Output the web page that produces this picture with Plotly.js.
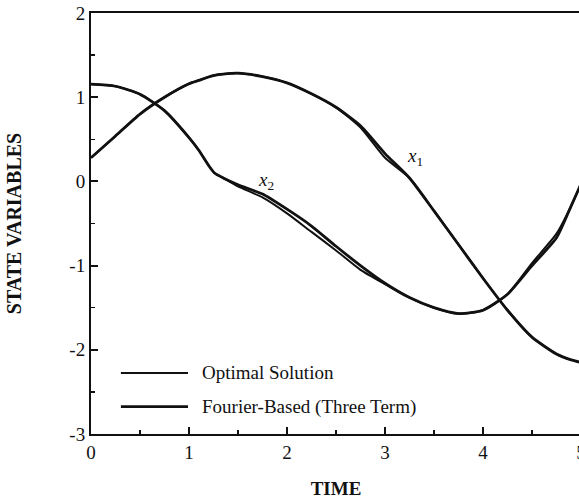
<!DOCTYPE html>
<html>
<head>
<meta charset="utf-8">
<script src="https://cdn.plot.ly/plotly-3.0.1.min.js"></script>
<style>
html, body { margin: 0; padding: 0; overflow: hidden; background: #fff; }
#chart { width: 584px; height: 499px; }
</style>
</head>
<body>
<div id="chart"></div>
<script>
// Time grid
const time = [0, 0.25, 0.5, 0.75, 1.0, 1.1, 1.2, 1.26, 1.35, 1.5, 1.75, 2.0, 2.25, 2.5, 2.75, 3.0, 3.25, 3.5, 3.75, 4.0, 4.25, 4.5, 4.75, 4.9, 5.0];

// Fourier-based (three term) solution
const x1Fourier = [0.28, 0.54, 0.80, 1.00, 1.16, 1.20, 1.24, 1.26, 1.275, 1.285, 1.245, 1.17, 1.04, 0.88, 0.66, 0.33, 0.04, -0.35, -0.75, -1.15, -1.53, -1.85, -2.05, -2.12, -2.15];
const x2Fourier = [1.155, 1.13, 1.035, 0.84, 0.52, 0.37, 0.19, 0.10, 0.04, -0.04, -0.15, -0.33, -0.53, -0.77, -1.00, -1.21, -1.38, -1.50, -1.57, -1.53, -1.34, -1.00, -0.67, -0.29, -0.03];

// Optimal solution
const x1Optimal = [0.28, 0.54, 0.80, 1.00, 1.16, 1.20, 1.24, 1.26, 1.275, 1.285, 1.245, 1.17, 1.04, 0.88, 0.64, 0.28, 0.04, -0.35, -0.75, -1.15, -1.53, -1.85, -2.05, -2.12, -2.15];
const x2Optimal = [1.155, 1.13, 1.035, 0.84, 0.52, 0.37, 0.19, 0.10, 0.04, -0.06, -0.19, -0.38, -0.60, -0.82, -1.05, -1.22, -1.38, -1.50, -1.57, -1.53, -1.34, -0.97, -0.62, -0.29, -0.03];

// Tick labels
const xTickVals = [0, 1, 2, 3, 4, 5];
const xTickText = ['0', '1', '2', '3', '4', '5'];
const yTickVals = [-3, -2, -1, 0, 1, 2];
const yTickText = ['-3', '-2', '-1', '0', '1', '2'];

const legendNames = ['Optimal Solution', 'Fourier-Based (Three Term)'];

const font = 'Liberation Serif, Times New Roman, serif';

function trace(y, w) {
  return {
    x: time, y: y, type: 'scatter', mode: 'lines',
    line: { color: '#111', width: w, shape: 'spline', smoothing: 0.6 },
    showlegend: false, hoverinfo: 'skip'
  };
}

const data = [
  trace(x1Optimal, 2.0), trace(x2Optimal, 2.0),
  trace(x1Fourier, 2.8), trace(x2Fourier, 2.8)
];

const axisCommon = {
  showgrid: false, zeroline: false,
  showline: true, linecolor: '#111', linewidth: 2, mirror: true,
  ticks: 'inside', ticklen: 7, tickwidth: 2, tickcolor: '#111',
  ticklabeloverflow: 'allow',
  tickfont: { family: font, size: 19, color: '#111' },
  minor: { ticks: 'inside', ticklen: 4, tickwidth: 1.5, tickcolor: '#111', dtick: 0.5, showgrid: false },
  fixedrange: true
};

const layout = {
  width: 584, height: 499,
  margin: { l: 91, r: 3, t: 13, b: 65 },
  paper_bgcolor: '#fff', plot_bgcolor: '#fff',
  xaxis: Object.assign({}, axisCommon, {
    range: [0, 5], tickmode: 'array', tickvals: xTickVals, ticktext: xTickText,
    title: { text: '<b>TIME</b>', font: { family: font, size: 19, color: '#111' }, standoff: 20 }
  }),
  yaxis: Object.assign({}, axisCommon, {
    range: [-3, 2], tickmode: 'array', tickvals: yTickVals, ticktext: yTickText,
    title: { text: '<b>STATE VARIABLES</b>', font: { family: font, size: 20, color: '#111' }, standoff: 42 }
  }),
  shapes: [
    { type: 'line', xref: 'paper', yref: 'paper', x0: 0.061, x1: 0.198, y0: 0.145, y1: 0.145, line: { color: '#111', width: 2.0 } },
    { type: 'line', xref: 'paper', yref: 'paper', x0: 0.061, x1: 0.198, y0: 0.065, y1: 0.065, line: { color: '#111', width: 2.8 } }
  ],
  annotations: [
    { xref: 'paper', yref: 'paper', x: 0.222, y: 0.145, xanchor: 'left', yanchor: 'middle', showarrow: false,
      text: legendNames[0], font: { family: font, size: 19, color: '#111' } },
    { xref: 'paper', yref: 'paper', x: 0.222, y: 0.065, xanchor: 'left', yanchor: 'middle', showarrow: false,
      text: legendNames[1], font: { family: font, size: 19, color: '#111' } },
    { x: 3.31, y: 0.29, showarrow: false, text: '<i>x</i><sub>1</sub>', font: { family: font, size: 19, color: '#111' } },
    { x: 1.79, y: 0.01, showarrow: false, text: '<i>x</i><sub>2</sub>', font: { family: font, size: 19, color: '#111' } }
  ]
};

Plotly.newPlot('chart', data, layout, { displayModeBar: false, staticPlot: true });
</script>
</body>
</html>
